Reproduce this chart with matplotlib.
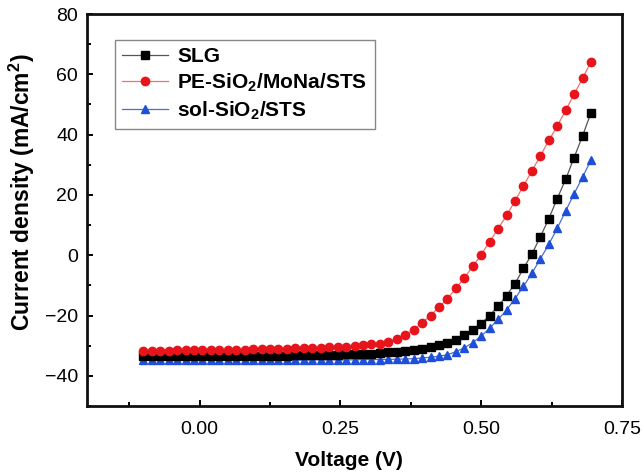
import matplotlib
matplotlib.use("Agg")
import matplotlib.pyplot as plt
from matplotlib.ticker import MultipleLocator

plt.rcParams['font.family'] = ['Liberation Sans', 'DejaVu Sans']
plt.rcParams['mathtext.fontset'] = 'custom'
plt.rcParams['mathtext.rm'] = 'Liberation Sans'
plt.rcParams['mathtext.bf'] = 'Liberation Sans:bold'

# Voltage sweep (V)
voltage = [-0.1, -0.085, -0.07, -0.055, -0.04, -0.025, -0.01, 0.005, 0.02, 0.035,
           0.05, 0.065, 0.08, 0.095, 0.11, 0.125, 0.14, 0.155, 0.17, 0.185,
           0.2, 0.215, 0.23, 0.245, 0.26, 0.275, 0.29, 0.305, 0.32, 0.335,
           0.35, 0.365, 0.38, 0.395, 0.41, 0.425, 0.44, 0.455, 0.47, 0.485,
           0.5, 0.515, 0.53, 0.545, 0.56, 0.575, 0.59, 0.605, 0.62, 0.635,
           0.65, 0.665, 0.68, 0.695]

# Current density (mA/cm^2) for each substrate
slg = [-33.5, -33.5, -33.5, -33.5, -33.5, -33.4, -33.4, -33.4, -33.4, -33.4,
       -33.4, -33.4, -33.4, -33.3, -33.3, -33.3, -33.3, -33.3, -33.2, -33.2,
       -33.2, -33.1, -33.1, -33.0, -32.9, -32.8, -32.7, -32.6, -32.4, -32.2,
       -32.0, -31.8, -31.5, -31.1, -30.5, -29.9, -29.1, -28.0, -26.5, -24.9,
       -22.7, -20.0, -16.9, -13.4, -9.4, -4.4, 0.4, 6.1, 12.1, 18.8,
       25.2, 32.4, 39.6, 47.3]

pe_sio2 = [-31.6, -31.6, -31.6, -31.6, -31.5, -31.5, -31.5, -31.5, -31.4, -31.4,
           -31.4, -31.3, -31.3, -31.2, -31.2, -31.1, -31.0, -31.0, -30.9, -30.8,
           -30.7, -30.6, -30.5, -30.4, -30.3, -30.1, -29.9, -29.6, -29.3, -28.7,
           -27.7, -26.3, -24.7, -22.4, -20.0, -17.2, -14.4, -11.0, -7.5, -3.7,
           0.2, 4.5, 8.8, 13.2, 18.0, 23.0, 28.0, 32.9, 38.1, 42.8,
           48.1, 53.4, 58.7, 64.2]

sol_sio2 = [-34.8, -34.8, -34.8, -34.8, -34.8, -34.8, -34.8, -34.8, -34.8, -34.8,
            -34.8, -34.8, -34.8, -34.8, -34.8, -34.8, -34.8, -34.8, -34.8, -34.8,
            -34.7, -34.7, -34.7, -34.7, -34.7, -34.7, -34.6, -34.6, -34.6, -34.5,
            -34.5, -34.4, -34.3, -34.1, -33.8, -33.5, -33.0, -32.0, -30.7, -29.0,
            -26.8, -24.2, -21.3, -18.2, -14.4, -10.3, -6.0, -1.2, 3.6, 8.9,
            14.7, 20.4, 25.9, 31.6]

labels = ['SLG', r'PE-SiO$_\mathbf{2}$/MoNa/STS', r'sol-SiO$_\mathbf{2}$/STS']

fig = plt.figure(figsize=(6.43, 4.73), dpi=100)
ax = fig.add_axes([87 / 643, 1 - 406 / 473, (622 - 87) / 643, (406 - 14) / 473])

ax.plot(voltage, slg, color='#555555', lw=0.9, marker='s', ms=5.4,
        mfc='black', mec='black', label=labels[0], zorder=3)
ax.plot(voltage, pe_sio2, color='#f07070', lw=0.9, marker='o', ms=6.0,
        mfc='#e8141c', mec='#e8141c', label=labels[1], zorder=4)
ax.plot(voltage, sol_sio2, color='#4a6fd0', lw=0.9, marker='^', ms=6.2,
        mfc='#1f4fd8', mec='#1f4fd8', label=labels[2], zorder=2)

ax.set_xlim(-0.2, 0.75)
ax.set_ylim(-50, 80)
ax.xaxis.set_minor_locator(MultipleLocator(0.125))
ax.yaxis.set_minor_locator(MultipleLocator(10))
ax.set_xticks([0.0, 0.25, 0.5, 0.75])
ax.set_xticklabels(['0.00', '0.25', '0.50', '0.75'])
ax.set_yticks([-40, -20, 0, 20, 40, 60, 80])
ax.set_yticklabels(['\u221240', '\u221220', '0', '20', '40', '60', '80'])

ax.tick_params(which='both', direction='in', top=False, right=False,
               labelsize=14, width=1.4, color='black')
ax.tick_params(which='major', length=4.5)
ax.tick_params(which='minor', length=3)
ax.tick_params(axis='x', which='major', pad=10.5)
ax.tick_params(axis='y', which='major', pad=6.5)
for s in ax.spines.values():
    s.set_linewidth(2.0)
    s.set_color('#111111')

ax.set_xlabel('Voltage (V)', fontsize=15, fontweight='bold')
ax.set_ylabel(r'Current density (mA/cm$^\mathbf{2}$)', fontsize=16.5,
              fontweight='bold')
ax.xaxis.set_label_coords(0.49, -0.115)
ax.yaxis.set_label_coords(-0.094, 0.545)

leg = ax.legend(loc='upper left', bbox_to_anchor=(0.052, 0.934),
                borderaxespad=0,
                prop={'weight': 'bold', 'size': 15}, fancybox=False,
                framealpha=1, edgecolor='#888888', handlelength=2.2,
                handletextpad=0.45, borderpad=0.35, labelspacing=0.25)
leg.get_frame().set_linewidth(1.0)

fig.savefig('out.png', dpi=100)
